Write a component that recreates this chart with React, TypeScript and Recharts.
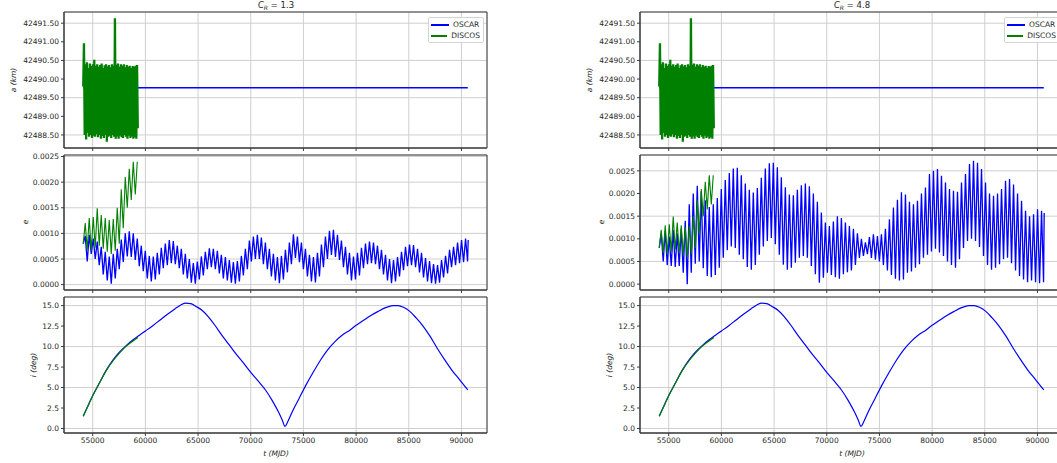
import { LineChart, Line, XAxis, YAxis, CartesianGrid, ReferenceArea, Legend } from "recharts";

const FONT = "'DejaVu Sans', sans-serif";
const INK = "#262626";
const FRAME = "#3a3a3a";
const GRID = "#cfcfcf";
const BLUE = "#0000ff";
const GREEN = "#008000";

// time axis (MJD)
const X_DOMAIN: [number, number] = [52275, 92425];
const X_TICKS = [55000, 60000, 65000, 70000, 75000, 80000, 85000, 90000];

// semi-major axis a (km)
const A_TICKS = [42488.5, 42489, 42489.5, 42490, 42490.5, 42491, 42491.5];
const A_DOMAIN: [number, number] = [42488.15, 42491.8];
const A_OSCAR_T = [54100, 59300, 65000, 70000, 75000, 80000, 85000, 90600];
const A_OSCAR = [42489.77, 42489.77, 42489.77, 42489.77, 42489.77, 42489.77, 42489.77, 42489.77];
const A_DISCOS_T = [
  54100, 54170, 54240, 54310, 54380, 54450, 54520, 54590, 54660, 54730,
  54800, 54870, 54940, 55010, 55080, 55150, 55220, 55290, 55360, 55430,
  55500, 55570, 55640, 55710, 55780, 55850, 55920, 55990, 56060, 56130,
  56200, 56270, 56340, 56410, 56480, 56550, 56620, 56690, 56760, 56830,
  56900, 56970, 57040, 57110, 57180, 57250, 57320, 57390, 57460, 57530,
  57600, 57670, 57740, 57810, 57880, 57950, 58020, 58090, 58160, 58230,
  58300, 58370, 58440, 58510, 58580, 58650, 58720, 58790, 58860, 58930,
  59000, 59070, 59140, 59210, 59280,
];
const A_DISCOS = [
  42489.8, 42490.96, 42488.5, 42490.4, 42488.38, 42490.45, 42488.55, 42490.3, 42488.45, 42490.42,
  42488.5, 42490.35, 42488.42, 42490.4, 42488.48, 42490.52, 42488.45, 42490.36, 42488.52, 42490.4,
  42488.44, 42490.33, 42488.5, 42490.38, 42488.4, 42490.42, 42488.47, 42490.3, 42488.42, 42490.37,
  42488.5, 42490.4, 42488.32, 42490.34, 42488.45, 42490.38, 42488.48, 42490.32, 42488.42, 42490.4,
  42488.5, 42490.35, 42488.45, 42491.63, 42488.4, 42490.38, 42488.46, 42490.42, 42488.4, 42490.33,
  42488.48, 42490.4, 42488.44, 42490.36, 42488.42, 42490.4, 42488.5, 42490.32, 42488.45, 42490.38,
  42488.4, 42490.34, 42488.48, 42490.36, 42488.42, 42490.3, 42488.46, 42490.35, 42488.4, 42490.33,
  42488.44, 42490.36, 42488.4, 42490.38, 42488.68,
];

// eccentricity e
const E_TICKS = [0, 0.0005, 0.001, 0.0015, 0.002, 0.0025];
const E_T = [
  54100, 54290, 54480, 54670, 54860, 55050, 55240, 55430, 55620, 55810,
  56000, 56190, 56380, 56570, 56760, 56950, 57140, 57330, 57520, 57710,
  57900, 58090, 58280, 58470, 58660, 58850, 59040, 59230, 59420, 59610,
  59800, 59990, 60180, 60370, 60560, 60750, 60940, 61130, 61320, 61510,
  61700, 61890, 62080, 62270, 62460, 62650, 62840, 63030, 63220, 63410,
  63600, 63790, 63980, 64170, 64360, 64550, 64740, 64930, 65120, 65310,
  65500, 65690, 65880, 66070, 66260, 66450, 66640, 66830, 67020, 67210,
  67400, 67590, 67780, 67970, 68160, 68350, 68540, 68730, 68920, 69110,
  69300, 69490, 69680, 69870, 70060, 70250, 70440, 70630, 70820, 71010,
  71200, 71390, 71580, 71770, 71960, 72150, 72340, 72530, 72720, 72910,
  73100, 73290, 73480, 73670, 73860, 74050, 74240, 74430, 74620, 74810,
  75000, 75190, 75380, 75570, 75760, 75950, 76140, 76330, 76520, 76710,
  76900, 77090, 77280, 77470, 77660, 77850, 78040, 78230, 78420, 78610,
  78800, 78990, 79180, 79370, 79560, 79750, 79940, 80130, 80320, 80510,
  80700, 80890, 81080, 81270, 81460, 81650, 81840, 82030, 82220, 82410,
  82600, 82790, 82980, 83170, 83360, 83550, 83740, 83930, 84120, 84310,
  84500, 84690, 84880, 85070, 85260, 85450, 85640, 85830, 86020, 86210,
  86400, 86590, 86780, 86970, 87160, 87350, 87540, 87730, 87920, 88110,
  88300, 88490, 88680, 88870, 89060, 89250, 89440, 89630, 89820, 90010,
  90200, 90390, 90580, 90640,
];
const E_OSCAR_13 = [
  0.0008, 0.00095, 0.00045, 0.00097, 0.0006, 0.0009, 0.0005, 0.00084, 0.00038, 0.00074,
  0.0002, 0.00064, 0.00008, 0.00055, 0.00002, 0.0006, 0.00012, 0.0007, 0.0003, 0.00088,
  0.00044, 0.001, 0.00055, 0.00104, 0.00054, 0.001, 0.00048, 0.0009, 0.00036, 0.00076,
  0.00026, 0.00066, 0.00012, 0.00056, 0.00006, 0.00055, 0.0001, 0.00062, 0.0002, 0.00072,
  0.00032, 0.0008, 0.00038, 0.00087, 0.00042, 0.00085, 0.0004, 0.00076, 0.00032, 0.0007,
  0.0002, 0.0006, 0.00012, 0.0005, 0.00004, 0.00042, 0.00002, 0.00045, 0.0001, 0.00055,
  0.00018, 0.00064, 0.0003, 0.00071, 0.00034, 0.0007, 0.0003, 0.00066, 0.00022, 0.00058,
  0.00012, 0.00054, 0.00008, 0.00048, 0.00004, 0.00044, 0.00002, 0.00046, 0.00006, 0.00056,
  0.00018, 0.0007, 0.0003, 0.00086, 0.00045, 0.00094, 0.0005, 0.00097, 0.0005, 0.00092,
  0.0004, 0.00082, 0.0003, 0.0007, 0.00016, 0.0006, 0.00008, 0.00054, 0.00003, 0.00056,
  0.0001, 0.00068, 0.00024, 0.00082, 0.0004, 0.00098, 0.00052, 0.00094, 0.00044, 0.00082,
  0.0003, 0.0007, 0.00016, 0.00058, 0.00006, 0.00054, 0.00004, 0.00062, 0.00016, 0.00078,
  0.00034, 0.00094, 0.0005, 0.00105, 0.00058, 0.00107, 0.00054, 0.00097, 0.00048, 0.00086,
  0.00034, 0.00074, 0.0002, 0.00062, 0.00008, 0.00055, 0.0001, 0.00062, 0.00018, 0.00072,
  0.00032, 0.0008, 0.0004, 0.00084, 0.00042, 0.00082, 0.0004, 0.00076, 0.0003, 0.00068,
  0.0002, 0.00058, 0.00008, 0.0005, 0.00003, 0.00048, 0.00006, 0.00054, 0.00016, 0.00064,
  0.00028, 0.00074, 0.00036, 0.00078, 0.00038, 0.00077, 0.00034, 0.0007, 0.00024, 0.00062,
  0.00014, 0.00052, 0.00006, 0.00046, 0.00003, 0.0004, 0.00002, 0.00038, 0.00004, 0.00048,
  0.00014, 0.00056, 0.00022, 0.00068, 0.00034, 0.00074, 0.00038, 0.00082, 0.00042, 0.00087,
  0.00044, 0.0009, 0.00045, 0.00087,
];
const E_OSCAR_48 = [
  0.0008, 0.00112, 0.0005, 0.00118, 0.00042, 0.00105, 0.0004, 0.0012, 0.00038, 0.00112,
  0.0004, 0.00122, 0.00025, 0.0014, 0.0, 0.00176, 0.00025, 0.002, 0.00045, 0.00217,
  0.0005, 0.00205, 0.00035, 0.00185, 0.00018, 0.0017, 0.00015, 0.00176, 0.0002, 0.0019,
  0.00036, 0.0021, 0.00058, 0.0023, 0.00075, 0.00245, 0.00083, 0.00255, 0.0008, 0.00257,
  0.00065, 0.0024, 0.00055, 0.00222, 0.00038, 0.00208, 0.00032, 0.00202, 0.00042, 0.00212,
  0.00065, 0.00235, 0.00083, 0.00255, 0.00095, 0.00267, 0.00102, 0.00268, 0.00088, 0.00258,
  0.00065, 0.00236, 0.00043, 0.00214, 0.00032, 0.00198, 0.00036, 0.00196, 0.00047, 0.00208,
  0.00058, 0.00218, 0.00062, 0.00222, 0.00058, 0.00216, 0.0004, 0.002, 0.00022, 0.00182,
  0.00003, 0.00158, 0.00014, 0.00136, 0.00025, 0.00128, 0.0002, 0.00138, 0.00015, 0.0015,
  0.00012, 0.00146, 0.00022, 0.00136, 0.00026, 0.00128, 0.0003, 0.00122, 0.00042, 0.00112,
  0.00058, 0.001, 0.00062, 0.00092, 0.00066, 0.00104, 0.00058, 0.0011, 0.00054, 0.00106,
  0.0005, 0.0011, 0.00042, 0.00122, 0.0003, 0.00143, 0.0002, 0.00169, 0.00012, 0.00186,
  0.00008, 0.00203, 0.0001, 0.00198, 0.00025, 0.00182, 0.00028, 0.00176, 0.00036, 0.00184,
  0.00044, 0.002, 0.00058, 0.00213, 0.00065, 0.00243, 0.00072, 0.0025, 0.00078, 0.00254,
  0.0007, 0.00239, 0.00062, 0.00224, 0.0005, 0.0021, 0.00042, 0.00206, 0.00036, 0.00204,
  0.00055, 0.00224, 0.0008, 0.00243, 0.00095, 0.00265, 0.001, 0.00272, 0.00095, 0.00268,
  0.00082, 0.00254, 0.00062, 0.00224, 0.00042, 0.002, 0.00032, 0.00195, 0.00036, 0.002,
  0.00044, 0.0021, 0.00055, 0.00228, 0.00058, 0.00232, 0.00046, 0.0022, 0.0003, 0.002,
  0.00018, 0.00184, 0.0001, 0.00162, 0.00004, 0.0015, 0.00008, 0.00154, 0.00004, 0.00165,
  0.00002, 0.00162, 0.00004, 0.00157,
];
const E_DISCOS = [
  0.0008, 0.0012, 0.00068, 0.0013, 0.00066, 0.00132, 0.00072, 0.00149, 0.00076, 0.00136,
  0.0007, 0.0013, 0.00064, 0.00126, 0.0006, 0.00128, 0.00066, 0.0015, 0.0008, 0.00186,
  0.0011, 0.0021, 0.0015, 0.00226, 0.00165, 0.0024, 0.00176, 0.0024,
];

// inclination i (deg)
const I_TICKS = [0, 2.5, 5, 7.5, 10, 12.5, 15];
const I_DOMAIN: [number, number] = [-0.55, 16.05];
const I_OSCAR_T = [
  54100, 54600, 55000, 55700, 56300, 56950, 57600, 58200, 58800, 59400,
  60000, 60700, 61400, 62100, 62800, 63400, 63800, 64300, 64800, 65400,
  66000, 66600, 67200, 67900, 68600, 69300, 70000, 70700, 71400, 72000,
  72600, 73000, 73250, 73500, 74000, 74600, 75200, 75900, 76600, 77300,
  78000, 78700, 79400, 80000, 80700, 81400, 82100, 82800, 83500, 84000,
  84500, 85100, 85700, 86300, 87000, 87700, 88400, 89100, 89800, 90600,
];
const I_OSCAR = [
  1.5, 2.9, 4.0, 5.7, 7.15, 8.4, 9.4, 10.15, 10.8, 11.35,
  11.9, 12.55, 13.25, 13.95, 14.6, 15.1, 15.3, 15.25, 14.9, 14.4,
  13.6, 12.6, 11.5, 10.3, 9.1, 8.0, 6.85, 5.8, 4.7, 3.5,
  2.1, 1.0, 0.25, 0.8, 2.2, 3.7, 5.2, 6.8, 8.3, 9.6,
  10.6, 11.4, 12.0, 12.6, 13.2, 13.8, 14.3, 14.75, 15.0, 15.0,
  14.8, 14.3, 13.5, 12.6, 11.3, 9.8, 8.4, 7.1, 6.0, 4.7,
];
const I_DISCOS_T = [54100, 54600, 55000, 55700, 56300, 56950, 57600, 58200, 58800, 59300];
const I_DISCOS = [1.5, 2.9, 4.0, 5.7, 7.1, 8.3, 9.3, 10.05, 10.65, 11.1];

const aOscar = A_OSCAR_T.map((t, k) => ({ t, v: A_OSCAR[k] }));
const aDiscos = A_DISCOS_T.map((t, k) => ({ t, v: A_DISCOS[k] }));
const eRows = E_T.map((t, k) => ({ t, e13: E_OSCAR_13[k], e48: E_OSCAR_48[k], discos: E_DISCOS[k] }));
const iOscar = I_OSCAR_T.map((t, k) => ({ t, v: I_OSCAR[k] }));
const iDiscos = I_DISCOS_T.map((t, k) => ({ t, v: I_DISCOS[k] }));

const COL_W = 500;
const SIDE = { left: 4, right: 13 };
const tickStyle = { fontSize: 7.5, fill: INK, fontFamily: FONT };
const LEGEND_ITEMS = [
  { name: "OSCAR", color: BLUE },
  { name: "DISCOS", color: GREEN },
];

function LegendBox() {
  return (
    <div
      style={{
        background: "#fff",
        border: "1px solid #d4d4d4",
        borderRadius: 2,
        padding: "1px 3px 1px 2px",
        fontFamily: FONT,
        fontSize: 7.5,
        color: INK,
        lineHeight: "11px",
      }}
    >
      {LEGEND_ITEMS.map((p) => (
        <div key={p.name} style={{ display: "flex", alignItems: "center", height: 11 }}>
          <span style={{ display: "inline-block", width: 18, height: 2, background: p.color, marginRight: 4 }} />
          {p.name}
        </div>
      ))}
    </div>
  );
}

function Column({ left, title, eKey, eDomain }: { left: number; title: string; eKey: string; eDomain: [number, number] }) {
  return (
    <div style={{ position: "absolute", left, top: 0, width: COL_W, height: 463 }}>
      {/* a (km) */}
      <div style={{ position: "absolute", left: 0, top: 0 }}>
        <LineChart width={COL_W} height={160} margin={{ top: 12, bottom: 2, ...SIDE }}>
          <CartesianGrid stroke={GRID} />
          <XAxis dataKey="t" type="number" domain={X_DOMAIN} ticks={X_TICKS} allowDataOverflow height={10}
            tickSize={3} tickFormatter={() => ""} stroke={FRAME} tickLine={{ stroke: FRAME }} />
          <YAxis type="number" domain={A_DOMAIN} ticks={A_TICKS} allowDataOverflow width={60} tickSize={3}
            tick={tickStyle} tickFormatter={(v: number) => v.toFixed(2)} stroke={FRAME} tickLine={{ stroke: FRAME }} />
          <Line data={aOscar} dataKey="v" name="OSCAR" stroke={BLUE} strokeWidth={1.5} dot={false} isAnimationActive={false} />
          <Line data={aDiscos} dataKey="v" name="DISCOS" stroke={GREEN} strokeWidth={2.3} strokeLinejoin="miter" dot={false} isAnimationActive={false} />
          <ReferenceArea x1={X_DOMAIN[0]} x2={X_DOMAIN[1]} y1={A_DOMAIN[0]} y2={A_DOMAIN[1]} fill="none" stroke={FRAME} ifOverflow="visible" />
          <Legend layout="vertical" align="center" verticalAlign="middle" width={56} content={<LegendBox />}
            wrapperStyle={{ left: 428, top: 17, width: 56 }} />
        </LineChart>
      </div>

      {/* e */}
      <div style={{ position: "absolute", left: 0, top: 150 }}>
        <LineChart data={eRows} width={COL_W} height={150} margin={{ top: 5, bottom: 0, ...SIDE }}>
          <CartesianGrid stroke={GRID} />
          <XAxis dataKey="t" type="number" domain={X_DOMAIN} ticks={X_TICKS} allowDataOverflow height={10}
            tickSize={3} tickFormatter={() => ""} stroke={FRAME} tickLine={{ stroke: FRAME }} />
          <YAxis type="number" domain={eDomain} ticks={E_TICKS} allowDataOverflow width={60} tickSize={3}
            tick={tickStyle} tickFormatter={(v: number) => v.toFixed(4)} stroke={FRAME} tickLine={{ stroke: FRAME }} />
          <Line dataKey={eKey} name="OSCAR" stroke={BLUE} strokeWidth={1.3} dot={false} isAnimationActive={false} />
          <Line dataKey="discos" name="DISCOS" stroke={GREEN} strokeWidth={1.1} dot={false} isAnimationActive={false} />
          <ReferenceArea x1={X_DOMAIN[0]} x2={X_DOMAIN[1]} y1={eDomain[0]} y2={eDomain[1]} fill="none" stroke={FRAME} ifOverflow="visible" />
        </LineChart>
      </div>

      {/* i (deg) */}
      <div style={{ position: "absolute", left: 0, top: 292 }}>
        <LineChart width={COL_W} height={171} margin={{ top: 5, bottom: 5, ...SIDE }}>
          <CartesianGrid stroke={GRID} />
          <XAxis dataKey="t" type="number" domain={X_DOMAIN} ticks={X_TICKS} allowDataOverflow height={25}
            tickSize={3} tick={tickStyle} stroke={FRAME} tickLine={{ stroke: FRAME }} />
          <YAxis type="number" domain={I_DOMAIN} ticks={I_TICKS} allowDataOverflow width={60} tickSize={3}
            tick={tickStyle} tickFormatter={(v: number) => v.toFixed(1)} stroke={FRAME} tickLine={{ stroke: FRAME }} />
          <Line data={iOscar} type="monotone" dataKey="v" name="OSCAR" stroke={BLUE} strokeWidth={1.2} dot={false} isAnimationActive={false} />
          <Line data={iDiscos} type="monotone" dataKey="v" name="DISCOS" stroke={GREEN} strokeWidth={1.2} dot={false} isAnimationActive={false} />
          <ReferenceArea x1={X_DOMAIN[0]} x2={X_DOMAIN[1]} y1={I_DOMAIN[0]} y2={I_DOMAIN[1]} fill="none" stroke={FRAME} ifOverflow="visible" />
        </LineChart>
      </div>

      {/* titles and axis labels */}
      <svg width={COL_W} height={463} style={{ position: "absolute", left: 0, top: 0, pointerEvents: "none" }}
        fontFamily={FONT} fill={INK}>
        <text x={276} y={8} textAnchor="middle" fontSize={8.5}>
          <tspan fontStyle="italic">C</tspan>
          <tspan fontStyle="italic" fontSize={6} dy={2}>R</tspan>
          <tspan dy={-2}> = {title}</tspan>
        </text>
        <text x={13} y={80} transform="rotate(-90 13 80)" textAnchor="middle" dominantBaseline="central" fontSize={7.5} fontStyle="italic">a (km)</text>
        <text x={25} y={222} transform="rotate(-90 25 222)" textAnchor="middle" dominantBaseline="central" fontSize={7.5} fontStyle="italic">e</text>
        <text x={33} y={365} transform="rotate(-90 33 365)" textAnchor="middle" dominantBaseline="central" fontSize={7.5} fontStyle="italic">i (deg)</text>
        <text x={276} y={453} textAnchor="middle" dominantBaseline="central" fontSize={7.5} fontStyle="italic">t (MJD)</text>
      </svg>
    </div>
  );
}

export default function App() {
  return (
    <div style={{ position: "absolute", left: 0, top: 0, width: 1057, height: 463, overflow: "hidden", background: "#fff" }}>
      <Column left={0} title="1.3" eKey="e13" eDomain={[-0.000105, 0.00253]} />
      <Column left={576} title="4.8" eKey="e48" eDomain={[-0.00013, 0.00285]} />
    </div>
  );
}
